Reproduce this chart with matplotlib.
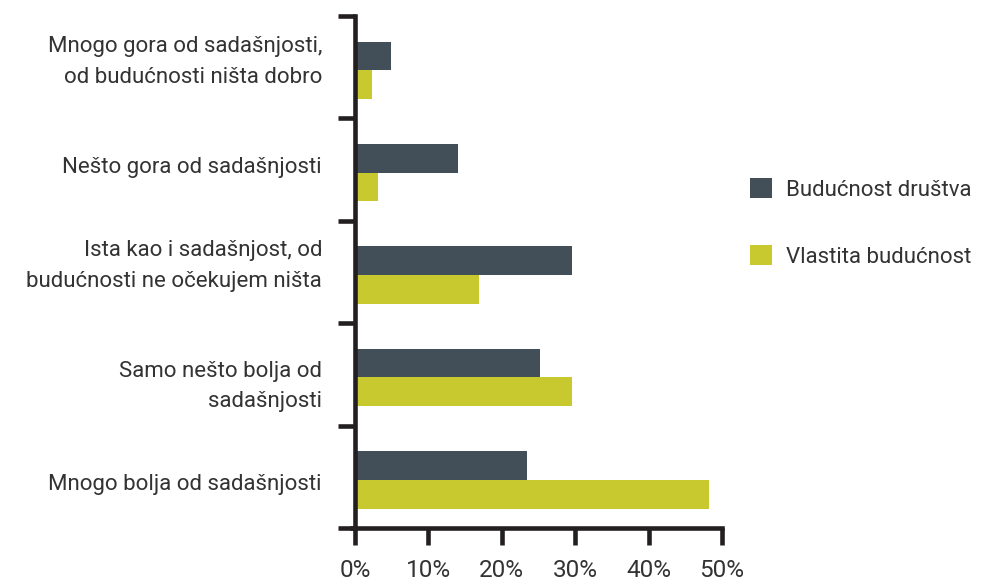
import matplotlib
matplotlib.use("Agg")
import matplotlib.pyplot as plt
import matplotlib.transforms as mtransforms
import numpy as np

categories = [
    "Mnogo gora od sadašnjosti,\nod budućnosti ništa dobro",
    "Nešto gora od sadašnjosti",
    "Ista kao i sadašnjost, od\nbudućnosti ne očekujem ništa",
    "Samo nešto bolja od\nsadašnjosti",
    "Mnogo bolja od sadašnjosti",
]
drustvo = [4.9, 14.0, 29.5, 25.2, 23.4]
vlastita = [2.3, 3.2, 16.9, 29.5, 48.2]
series_names = ["Budućnost društva", "Vlastita budućnost"]
xticks = [0, 10, 20, 30, 40, 50]
xtick_labels = ["0%", "10%", "20%", "30%", "40%", "50%"]

dark = "#424f58"
yellow = "#c8c92e"
text_color = "#333333"
FS = 16
W = 'normal'
# small vertical nudges (pixels, down positive) to mimic hand-placed labels
label_nudge_px = [-5, -2, -6, 12, 8]

plt.rcParams['font.family'] = ['Roboto', 'DejaVu Sans']

fig = plt.figure(figsize=(9.85, 5.83), dpi=100)
ax = fig.add_axes([355/985, 1-528/583, (722-355)/985, (528-16)/583])

y = np.arange(len(categories))
h = 0.28
ax.barh(y - h/2 + 0.03, drustvo, height=h, color=dark, label=series_names[0])
ax.barh(y + h/2 + 0.03, vlastita, height=h, color=yellow, label=series_names[1])

ax.set_ylim(len(categories) - 0.5, -0.5)
ax.set_xlim(0, 50)

ax.set_yticks(np.arange(-0.5, len(categories) + 0.5, 1.0))
ax.set_yticklabels([])
ax.tick_params(axis='y', which='major', length=12, width=3.3, color='#231f20')

trans = mtransforms.blended_transform_factory(ax.transAxes, ax.transData)
for yi, lab, dpx in zip(y, categories, label_nudge_px):
    off = mtransforms.ScaledTranslation(-33/100, -dpx/100, fig.dpi_scale_trans)
    ax.text(0, yi, lab, transform=trans + off, ha='right', va='center',
            fontsize=FS, fontweight=W, color=text_color, linespacing=1.6,
            multialignment='right')

ax.set_xticks(xticks)
ax.set_xticklabels(xtick_labels, fontsize=17.5, fontweight=W, color=text_color)
ax.tick_params(axis='x', length=12, width=3.3, color='#231f20', pad=10)

for s in ['top', 'right']:
    ax.spines[s].set_visible(False)
for s in ['left', 'bottom']:
    ax.spines[s].set_linewidth(3.3)
    ax.spines[s].set_color('#231f20')
ax.spines['bottom'].set_bounds(-3.5/7.34, 50)

leg = ax.legend(loc='center left', bbox_to_anchor=(1 + (750-722)/367, 0.596), frameon=False,
                borderaxespad=0, borderpad=0,
                handlelength=1.0, handleheight=1.0, labelspacing=2.0,
                handletextpad=0.6, fontsize=FS)
for t in leg.get_texts():
    t.set_fontweight(W)
    t.set_color(text_color)

fig.savefig("out.png", dpi=100, facecolor='white')
